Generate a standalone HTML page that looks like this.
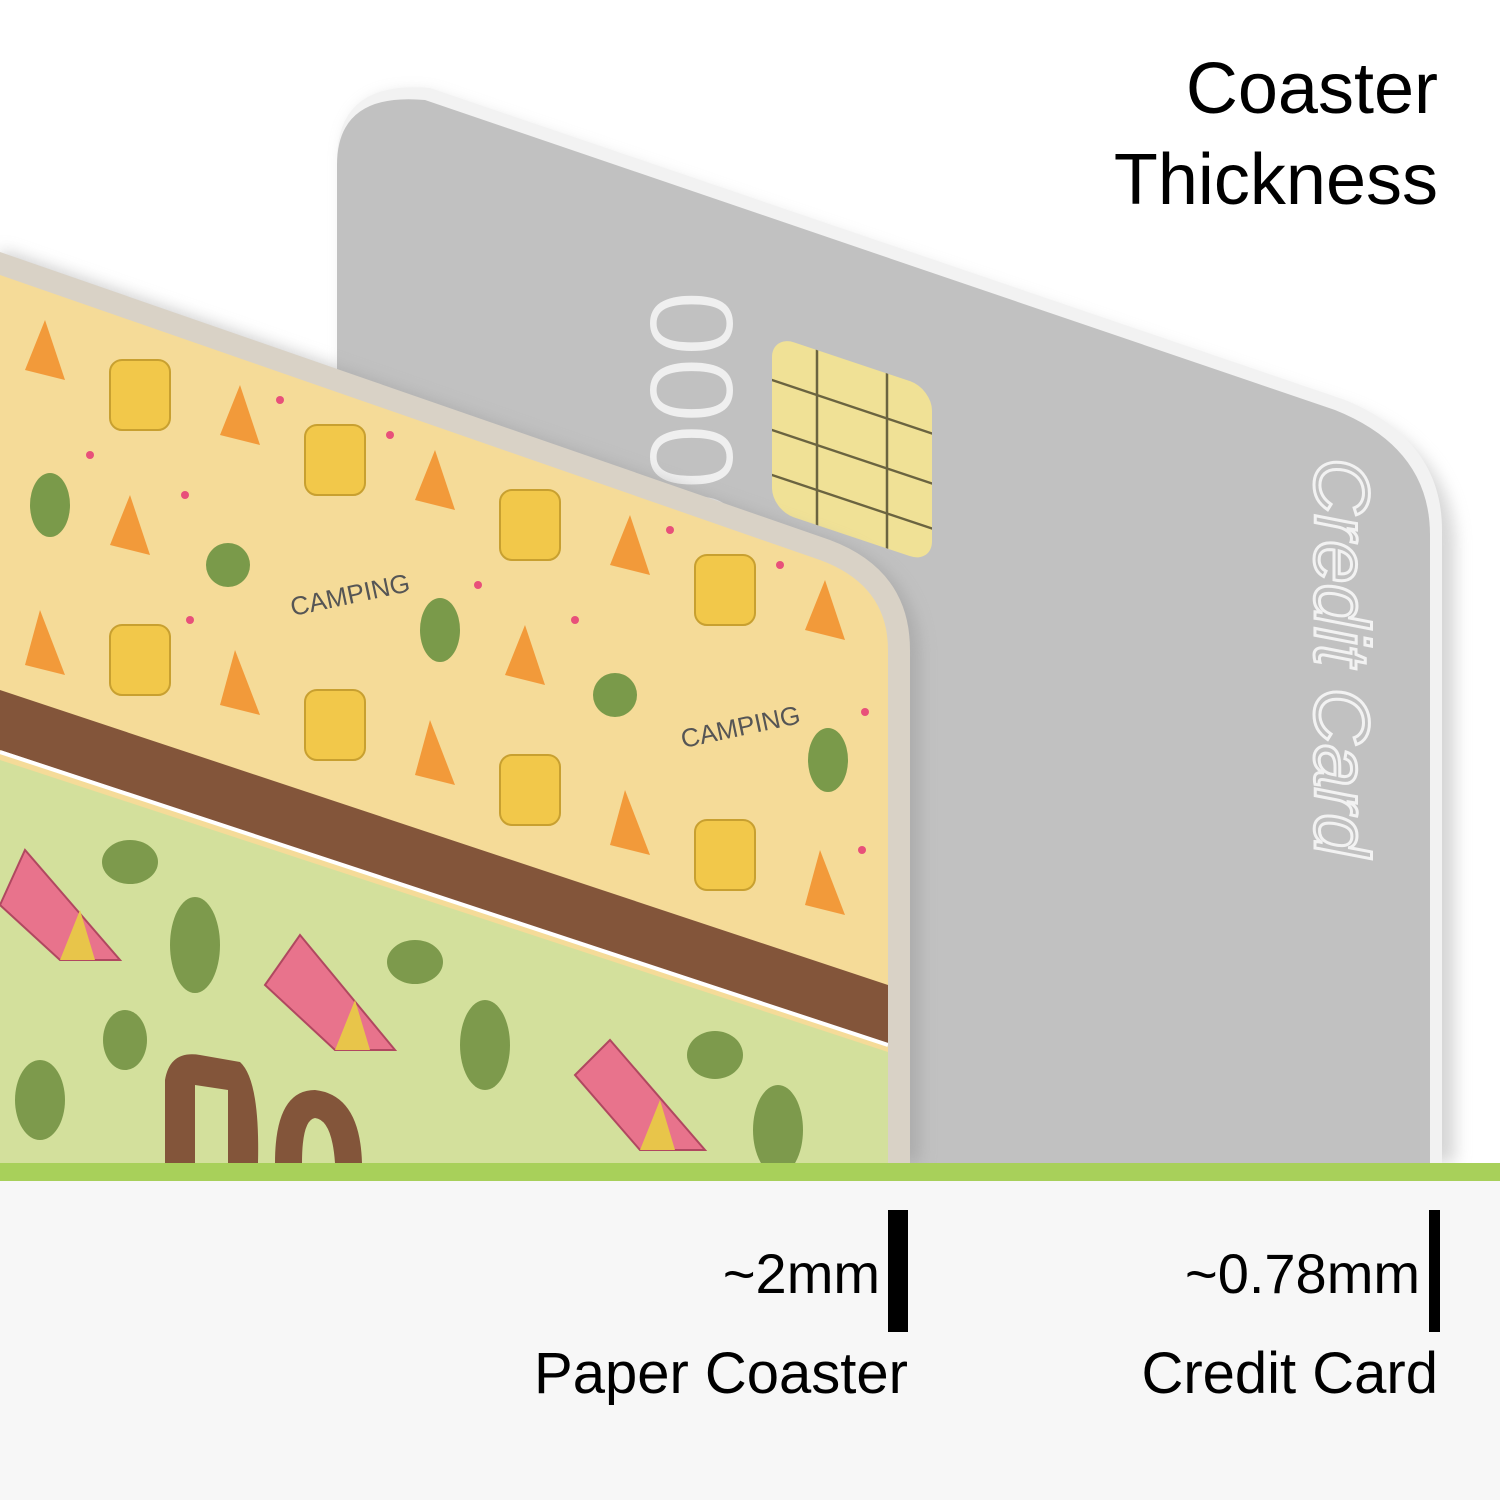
<!DOCTYPE html>
<html><head><meta charset="utf-8"><style>
html,body{margin:0;padding:0;background:#fff}
svg{display:block}
text{font-family:"Liberation Sans",sans-serif}
</style></head><body>
<svg width="1500" height="1500" viewBox="0 0 1500 1500" xmlns="http://www.w3.org/2000/svg">
<defs>
<filter id="sh" x="-10%" y="-10%" width="130%" height="130%"><feGaussianBlur stdDeviation="8"/></filter>
<clipPath id="cc"><path d="M0,275 L820,560 Q888,585 888,650 L888,1163 L0,1163 Z"/></clipPath>
</defs>
<rect x="0" y="0" width="1500" height="1163" fill="#fff"/>
<!-- credit card shadow -->
<path d="M345,1163 L345,160 Q345,85 430,95 L1350,410 Q1450,450 1455,540 L1455,1163 Z" fill="#bbb" filter="url(#sh)" opacity="0.6"/>
<!-- credit card edge -->
<path d="M337,1163 L337,160 Q337,80 430,88 L1345,400 Q1442,440 1442,530 L1442,1163 Z" fill="#f2f2f2"/>
<path d="M337,1163 L337,165 Q337,92 425,100 L1335,410 Q1430,448 1430,535 L1430,1163 Z" fill="#c1c1c1"/>
<text transform="translate(650,290) rotate(90)" font-size="120" fill="#efefef" stroke="#c1c1c1" stroke-width="2">0000</text>
<text transform="translate(1315,458) rotate(90)" font-size="78" fill="none" stroke="#f2f2f2" stroke-width="3" font-style="italic">Credit Card</text>
<!-- chip -->
<g transform="translate(772,335) skewY(18.5)">
<rect x="0" y="0" width="160" height="175" rx="22" fill="#f0e196"/>
<g stroke="#6b6440" stroke-width="2.5">
<line x1="45" y1="0" x2="45" y2="175"/><line x1="115" y1="0" x2="115" y2="175"/>
<line x1="0" y1="45" x2="160" y2="45"/><line x1="0" y1="95" x2="160" y2="95"/><line x1="0" y1="140" x2="160" y2="140"/>
</g></g>
<!-- coaster shadow -->
<path d="M0,250 L830,540 Q915,570 920,650 L920,1163 L0,1163 Z" fill="#999" filter="url(#sh)" opacity="0.5"/>
<!-- coaster border -->
<path d="M0,252 L830,540 Q910,570 910,650 L910,1163 L0,1163 Z" fill="#d9d2c6"/>
<g clip-path="url(#cc)">
<rect x="0" y="0" width="900" height="1163" fill="#f5db98"/>
<path d="M0,760 L888,1052 L888,1163 L0,1163 Z" fill="#d3e09c"/>
<path d="M0,690 L888,985 L888,1045 L0,750 Z" fill="#83553a"/>
<path d="M0,752 L888,1045" stroke="#fff" stroke-width="4"/>
<!-- yellow pattern: fires & backpacks -->
<g fill="#f29a3a">
<path d="M45,320 l-20,50 l40,10 z"/><path d="M240,385 l-20,50 l40,10 z"/><path d="M435,450 l-20,50 l40,10 z"/><path d="M630,515 l-20,50 l40,10 z"/><path d="M825,580 l-20,50 l40,10 z"/>
<path d="M130,495 l-20,50 l40,10 z"/><path d="M525,625 l-20,50 l40,10 z"/>
<path d="M40,610 l-15,55 l40,10 z"/><path d="M235,650 l-15,55 l40,10 z"/><path d="M430,720 l-15,55 l40,10 z"/><path d="M625,790 l-15,55 l40,10 z"/><path d="M820,850 l-15,55 l40,10 z"/>
</g>
<g fill="#f2c84a" stroke="#c8a030" stroke-width="2">
<rect x="110" y="360" width="60" height="70" rx="12"/><rect x="305" y="425" width="60" height="70" rx="12"/><rect x="500" y="490" width="60" height="70" rx="12"/><rect x="695" y="555" width="60" height="70" rx="12"/>
<rect x="110" y="625" width="60" height="70" rx="12"/><rect x="305" y="690" width="60" height="70" rx="12"/><rect x="500" y="755" width="60" height="70" rx="12"/><rect x="695" y="820" width="60" height="70" rx="12"/>
</g>
<g fill="#7a9a4a"><ellipse cx="50" cy="505" rx="20" ry="32"/><ellipse cx="228" cy="565" rx="22" ry="22"/><ellipse cx="440" cy="630" rx="20" ry="32"/><ellipse cx="615" cy="695" rx="22" ry="22"/><ellipse cx="828" cy="760" rx="20" ry="32"/></g>
<text x="290" y="608" font-size="26" fill="#555" transform="rotate(-12 330 600)">CAMPING</text>
<text x="680" y="740" font-size="26" fill="#555" transform="rotate(-12 720 730)">CAMPING</text>
<g fill="#e8507a"><circle cx="90" cy="455" r="4"/><circle cx="185" cy="495" r="4"/><circle cx="280" cy="400" r="4"/><circle cx="390" cy="435" r="4"/><circle cx="478" cy="585" r="4"/><circle cx="575" cy="620" r="4"/><circle cx="670" cy="530" r="4"/><circle cx="780" cy="565" r="4"/><circle cx="865" cy="712" r="4"/><circle cx="862" cy="850" r="4"/><circle cx="190" cy="620" r="4"/></g>
<!-- green pattern -->
<g fill="#e8738c" stroke="#b04860" stroke-width="2">
<path d="M0,905 L25,850 L120,960 L60,960 Z"/><path d="M265,985 L300,935 L395,1050 L335,1050 Z"/><path d="M575,1075 L610,1040 L705,1150 L640,1150 Z"/>
</g>
<g fill="#e8c54a"><path d="M60,960 L80,910 L95,960 Z"/><path d="M335,1050 L355,1000 L370,1050 Z"/><path d="M640,1150 L660,1100 L675,1150 Z"/></g>
<g fill="#7d9a4c"><ellipse cx="130" cy="862" rx="28" ry="22"/><ellipse cx="195" cy="945" rx="25" ry="48"/><ellipse cx="415" cy="962" rx="28" ry="22"/><ellipse cx="485" cy="1045" rx="25" ry="45"/><ellipse cx="715" cy="1055" rx="28" ry="24"/><ellipse cx="778" cy="1130" rx="25" ry="45"/><ellipse cx="40" cy="1100" rx="25" ry="40"/><ellipse cx="125" cy="1040" rx="22" ry="30"/></g>
<path d="M165,1163 L165,1080 Q170,1050 200,1055 L240,1062 Q260,1080 258,1163 L228,1163 L228,1090 L195,1085 L195,1163 Z" fill="#83553a"/>
<path d="M275,1163 Q275,1090 315,1090 Q360,1095 362,1163 L335,1163 Q332,1120 315,1118 Q302,1120 302,1163 Z" fill="#83553a"/>
</g>
<!-- bottom band -->
<rect x="0" y="1163" width="1500" height="18" fill="#a8d05a"/>
<rect x="0" y="1181" width="1500" height="319" fill="#f7f7f7"/>
<text x="1438" y="113" font-size="72" text-anchor="end" fill="#000">Coaster</text>
<text x="1438" y="204" font-size="72" text-anchor="end" fill="#000">Thickness</text>
<rect x="888" y="1210" width="20" height="122" fill="#000"/>
<rect x="1429" y="1210" width="11" height="122" fill="#000"/>
<text x="880" y="1293" font-size="56" text-anchor="end" fill="#000">~2mm</text>
<text x="1420" y="1293" font-size="56" text-anchor="end" fill="#000">~0.78mm</text>
<text x="908" y="1393" font-size="58" text-anchor="end" fill="#000">Paper Coaster</text>
<text x="1438" y="1393" font-size="58" text-anchor="end" fill="#000">Credit Card</text>
</svg>
</body></html>
